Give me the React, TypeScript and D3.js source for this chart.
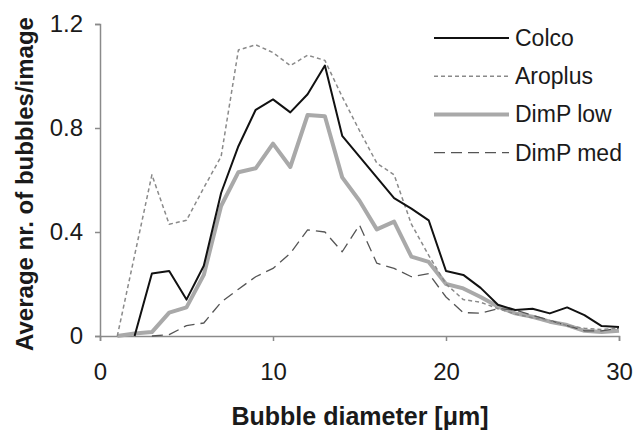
import { useEffect, useRef } from 'react';
import * as d3 from 'd3';

// bubble diameter classes [um]
const diameters = [0, 1, 2, 3, 4, 5, 6, 7, 8, 9, 10, 11, 12, 13, 14, 15, 16, 17, 18, 19, 20, 21, 22, 23, 24, 25, 26, 27, 28, 29, 30];

// average number of bubbles per image (null = not drawn)
const colco = [null, null, 0, 0.24, 0.25, 0.14, 0.27, 0.55, 0.73, 0.87, 0.91, 0.86, 0.93, 1.04, 0.77, 0.69, 0.61, 0.53, 0.49, 0.445, 0.25, 0.235, 0.185, 0.12, 0.1, 0.105, 0.087, 0.11, 0.08, 0.038, 0.035];
const aroplus = [null, 0, 0.31, 0.62, 0.43, 0.445, 0.57, 0.69, 1.1, 1.12, 1.09, 1.04, 1.08, 1.06, 0.92, 0.79, 0.665, 0.62, 0.43, 0.31, 0.2, 0.14, 0.13, 0.105, 0.085, 0.07, 0.06, 0.04, 0.03, 0.025, 0.03];
const dimpLow = [null, 0, 0.01, 0.015, 0.09, 0.11, 0.235, 0.5, 0.63, 0.645, 0.74, 0.65, 0.85, 0.845, 0.61, 0.52, 0.41, 0.44, 0.305, 0.285, 0.2, 0.183, 0.15, 0.113, 0.087, 0.074, 0.055, 0.042, 0.02, 0.015, 0.02];
const dimpMed = [null, null, null, 0, 0.005, 0.04, 0.05, 0.13, 0.18, 0.228, 0.26, 0.318, 0.408, 0.4, 0.324, 0.427, 0.28, 0.26, 0.228, 0.24, 0.15, 0.09, 0.088, 0.105, 0.1, 0.08, 0.06, 0.04, 0.02, 0.02, 0.03];

const seriesNames = ['Colco', 'Aroplus', 'DimP low', 'DimP med'];
const xTicks = [0, 10, 20, 30];
const yTicks = [0, 0.4, 0.8, 1.2];

const Chart = () => {
    const svgRef = useRef<SVGSVGElement>(null);

    useEffect(() => {
        const w = 634;
        const h = 430;
        const svg = d3.select(svgRef.current);
        svg.selectAll('*').remove();
        svg.attr('width', w).attr('height', h);

        const x = d3.scaleLinear().domain([0, 30]).range([100, 619]);
        const y = d3.scaleLinear().domain([0, 1.2]).range([336, 24]);

        const styles: Record<string, {stroke: string, width: number, dash: string | null}> = {
            'Colco': {stroke: '#111', width: 2, dash: null},
            'Aroplus': {stroke: '#8a8a8a', width: 1.5, dash: '4,3'},
            'DimP low': {stroke: '#a9a9a9', width: 4, dash: null},
            'DimP med': {stroke: '#555', width: 1.3, dash: '11,6'},
        };
        const values: Record<string, (number | null)[]> = {
            'Colco': colco, 'Aroplus': aroplus, 'DimP low': dimpLow, 'DimP med': dimpMed,
        };

        //axes
        const xAxis = svg.append('g')
            .attr('transform', `translate(0, ${y(0)})`)
            .call(d3.axisBottom(x).tickValues(xTicks).tickSize(5).tickPadding(5).tickFormat(d3.format('d')));
        const yAxis = svg.append('g')
            .attr('transform', `translate(${x(0)}, 0)`)
            .call(d3.axisLeft(y).tickValues(yTicks).tickSize(5).tickPadding(12).tickFormat(d => d === 0 ? '0' : d3.format('.1f')(d as number)));
        [xAxis, yAxis].forEach(a => {
            a.select('.domain').attr('stroke', '#8a8a8a').attr('stroke-width', 1.5);
            a.selectAll('line').attr('stroke', '#8a8a8a').attr('stroke-width', 1.5);
            a.selectAll('text')
             .attr('fill', '#1a1a1a')
             .style('font-family', '"Liberation Sans", Arial, sans-serif')
             .style('font-size', '24px');
        });
        xAxis.selectAll('text').attr('dy', '0.75em').attr('y', 26);

        //lines, Colco drawn last so it sits on top
        const line = d3.line<number | null>()
            .defined(d => d != null)
            .x((d, i) => x(diameters[i]))
            .y(d => y(d as number));
        ['DimP low', 'DimP med', 'Aroplus', 'Colco'].forEach(name => {
            const s = styles[name];
            svg.append('path')
               .datum(values[name])
               .attr('d', line)
               .attr('fill', 'none')
               .attr('stroke', s.stroke)
               .attr('stroke-width', s.width)
               .attr('stroke-linejoin', 'round')
               .attr('stroke-dasharray', s.dash);
        });

        //legend
        const legend = svg.append('g');
        seriesNames.forEach((name, i) => {
            const s = styles[name];
            const ly = 38 + i * 38.2;
            legend.append('line')
                .attr('x1', 434).attr('x2', 509)
                .attr('y1', ly).attr('y2', ly)
                .attr('stroke', s.stroke)
                .attr('stroke-width', s.width)
                .attr('stroke-dasharray', s.dash);
            legend.append('text')
                .attr('x', 515)
                .attr('y', ly + 8)
                .attr('fill', '#1a1a1a')
                .style('font-family', '"Liberation Sans", Arial, sans-serif')
                .style('font-size', '23px')
                .text(name);
        });

        //axis titles
        svg.append('text')
            .attr('x', 360)
            .attr('y', 425)
            .attr('text-anchor', 'middle')
            .attr('fill', '#1a1a1a')
            .style('font-family', '"Liberation Sans", Arial, sans-serif')
            .style('font-size', '25px')
            .style('font-weight', 'bold')
            .text('Bubble diameter [\u03bcm]');
        svg.append('text')
            .attr('transform', 'rotate(-90)')
            .attr('x', -184)
            .attr('y', 33)
            .attr('text-anchor', 'middle')
            .attr('fill', '#1a1a1a')
            .style('font-family', '"Liberation Sans", Arial, sans-serif')
            .style('font-size', '24px')
            .style('font-weight', 'bold')
            .text('Average nr. of bubbles/image');
    }, []);

    return (
        <svg ref={svgRef} style={{position: 'absolute', left: 0, top: 0, background: '#fff'}}></svg>
    );
};

export default function App() {
    return <Chart />;
}
